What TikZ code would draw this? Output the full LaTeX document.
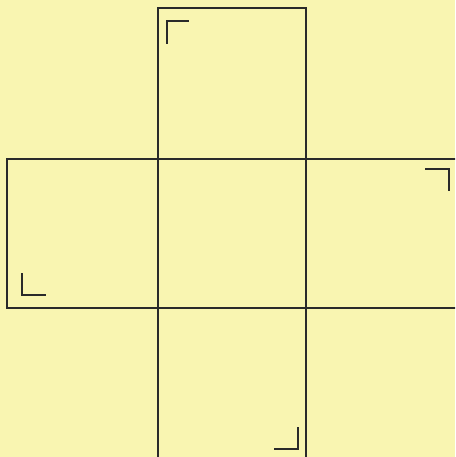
\documentclass[tikz,border=0pt]{standalone}
\definecolor{bg}{HTML}{F9F5B1}
\definecolor{ink}{HTML}{2A2A2A}
\begin{document}
\begin{tikzpicture}[x=1pt,y=-1pt,
  edge/.style={draw=ink,line width=2.8pt},
  anglemark/.style={draw=ink,line width=2.8pt}]
\fill[bg] (0,0) rectangle (455,457);
\useasboundingbox (0,0) rectangle (455,457);
\begin{scope}
\clip (0,0) rectangle (455,457);
% cube net outline
\coordinate (tl) at (158,8);
\coordinate (tr) at (306,8);
\coordinate (ml) at (7,159);
\coordinate (bl) at (7,308);
\draw[edge] (158,460) -- (tl) -- (tr) -- (306,460);
\draw[edge] (460,159) -- (ml) -- (bl) -- (460,308);
% right-angle marks
\draw[anglemark] (167,44) -- (167,21) -- (189,21);
\draw[anglemark] (425,169) -- (449,169) -- (449,191);
\draw[anglemark] (22,273) -- (22,295) -- (46,295);
\draw[anglemark] (298,427) -- (298,449) -- (274,449);
\end{scope}
\end{tikzpicture}
\end{document}
